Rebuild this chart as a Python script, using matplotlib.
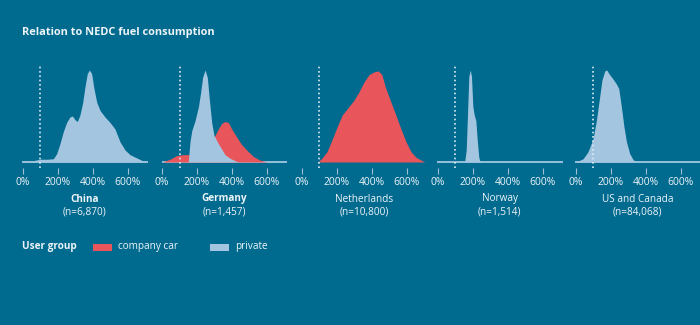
import matplotlib.pyplot as plt
from matplotlib.patches import Rectangle

# === Colours ===
BG = '#006b8f'
RED = '#e8555b'
BLUE = '#a3c5e0'
TXT = '#eef4f8'

plt.rcParams['font.family'] = ['Open Sans', 'DejaVu Sans']

# === Data (relation to NEDC fuel consumption, %, relative density) ===
countries = ['China', 'Germany', 'Netherlands', 'Norway', 'US and Canada']
sample_sizes = ['(n=6,870)', '(n=1,457)', '(n=10,800)', '(n=1,514)', '(n=84,068)']
bold_names = [True, True, False, False, False]
tick_vals = [0, 200, 400, 600]
tick_labels = ['0%', '200%', '400%', '600%']
nedc_line = 100

china_private_x = [0, 50, 99, 140, 175, 194, 213, 232, 251, 270, 284, 299, 312, 327, 343,
                   356, 369, 381, 394, 407, 423, 442, 470, 499, 527, 556, 585, 613, 651,
                   689, 715]
china_private_y = [0.005, 0.01, 0.03, 0.03, 0.035, 0.09, 0.2, 0.33, 0.43, 0.49, 0.5, 0.46,
                   0.44, 0.51, 0.65, 0.82, 0.96, 1.0, 0.96, 0.8, 0.65, 0.56, 0.49, 0.43,
                   0.36, 0.22, 0.13, 0.08, 0.045, 0.01, 0.0]

germany_private_x = [150, 160, 170, 189, 208, 221, 232, 246, 259, 270, 284, 297, 316, 341,
                     360, 389, 417, 436]
germany_private_y = [0.0, 0.22, 0.34, 0.45, 0.6, 0.76, 0.92, 1.0, 0.92, 0.69, 0.43, 0.29,
                     0.22, 0.14, 0.08, 0.04, 0.015, 0.0]
germany_company_x = [0, 8, 46, 84, 122, 150, 200, 260, 303, 322, 341, 360, 379, 398, 427,
                     455, 484, 522, 560, 598]
germany_company_y = [0.0, 0.005, 0.03, 0.07, 0.08, 0.08, 0.1, 0.18, 0.29, 0.36, 0.42, 0.44,
                     0.43, 0.36, 0.27, 0.19, 0.13, 0.06, 0.02, 0.0]

netherlands_company_x = [92, 115, 144, 173, 202, 231, 269, 298, 327, 356, 385, 413, 438, 458,
                         477, 506, 538, 567, 596, 625, 654, 692, 705]
netherlands_company_y = [0.0, 0.04, 0.11, 0.24, 0.38, 0.51, 0.6, 0.67, 0.76, 0.87, 0.95,
                         0.98, 0.99, 0.95, 0.82, 0.67, 0.51, 0.36, 0.22, 0.11, 0.05, 0.01, 0.0]

norway_private_x = [154, 163, 171, 178, 186, 193, 201, 209, 218, 226, 235, 243]
norway_private_y = [0.0, 0.13, 0.56, 0.93, 1.0, 0.93, 0.6, 0.51, 0.45, 0.24, 0.05, 0.0]

us_private_x = [0, 13, 42, 70, 99, 118, 137, 150, 166, 177, 190, 210, 232, 246, 261, 276,
                290, 309, 328, 347]
us_private_y = [0.0, 0.01, 0.035, 0.11, 0.25, 0.45, 0.71, 0.89, 0.99, 1.0, 0.96, 0.91, 0.85,
                0.8, 0.6, 0.38, 0.22, 0.09, 0.025, 0.0]

private = [(china_private_x, china_private_y), (germany_private_x, germany_private_y),
           None, (norway_private_x, norway_private_y), (us_private_x, us_private_y)]
company = [None, (germany_company_x, germany_company_y),
           (netherlands_company_x, netherlands_company_y), None, None]

# === Figure ===
W, H = 700, 325
fig = plt.figure(figsize=(W / 100, H / 100), dpi=100, facecolor=BG)

zero_px = [22.7, 162, 301.7, 437.7, 575.7]   # where 0% sits in each panel
px_per_pct = 0.175
xmin, xmax = -5, 715
ymin, ymax = -0.06, 1.05
base_px = 162
peak_h = 92

for i, name in enumerate(countries):
    left = (zero_px[i] + xmin * px_per_pct) / W
    width = (xmax - xmin) * px_per_pct / W
    bottom = 1 - (base_px - ymin * peak_h) / H
    height = (ymax - ymin) * peak_h / H
    ax = fig.add_axes([left, bottom, width, height])
    ax.set_facecolor(BG)
    ax.set_xlim(xmin, xmax)
    ax.set_ylim(ymin, ymax)
    for s in ax.spines.values():
        s.set_visible(False)
    ax.set_yticks([])
    ax.set_xticks(tick_vals)
    ax.set_xticklabels(tick_labels, color=TXT, fontsize=7.4)
    ax.tick_params(axis='x', colors='#9fc0d6', length=4.5, width=0.8, pad=2.5,
                   labelcolor=TXT)

    if private[i] is not None:
        ax.plot([xmin + 3, xmax], [0, 0], color=BLUE, lw=1.3, solid_capstyle='butt', zorder=1)
    if company[i] is not None:
        cx, cy = company[i]
        ax.fill_between(cx, 0, cy, color=RED, lw=0, zorder=2)
    if private[i] is not None:
        px, py = private[i]
        ax.fill_between(px, 0, py, color=BLUE, lw=0, zorder=3)

    ax.plot([nedc_line, nedc_line], [ymin, ymax], color='#dbe9f2', lw=1.2,
            linestyle=(0, (1, 1.6)), zorder=4)

    cx_fig = left + width / 2
    fig.text(cx_fig, 1 - 199 / H, name, ha='center', va='center', color=TXT, fontsize=7.2,
             fontweight='bold' if bold_names[i] else 'normal')
    fig.text(cx_fig, 1 - 212 / H, sample_sizes[i], ha='center', va='center', color=TXT,
             fontsize=7.2)

fig.text(22 / W, 1 - 32 / H, 'Relation to NEDC fuel consumption', ha='left', va='center',
         color=TXT, fontsize=7.9, fontweight='bold')

# === Legend ===
fig.text(22 / W, 1 - 247 / H, 'User group', ha='left', va='center', color=TXT,
         fontsize=7.2, fontweight='bold')
fig.patches.append(Rectangle((93 / W, 1 - 251 / H), 19 / W, 7 / H, transform=fig.transFigure,
                             color=RED, lw=0))
fig.text(118 / W, 1 - 247 / H, 'company car', ha='left', va='center', color=TXT, fontsize=7.2)
fig.patches.append(Rectangle((210 / W, 1 - 251 / H), 19 / W, 7 / H, transform=fig.transFigure,
                             color=BLUE, lw=0))
fig.text(235 / W, 1 - 247 / H, 'private', ha='left', va='center', color=TXT, fontsize=7.2)

fig.savefig('out.png', dpi=100, facecolor=BG)
